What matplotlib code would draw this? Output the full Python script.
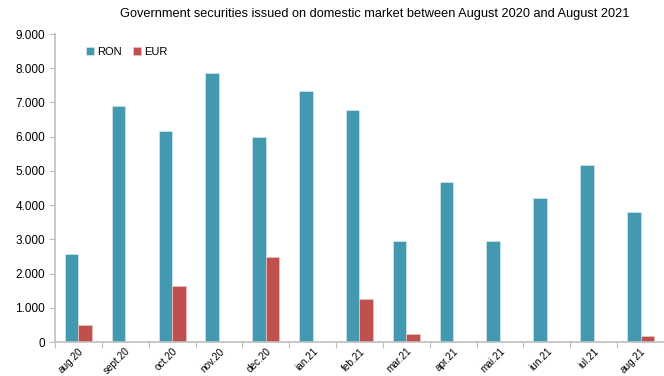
#!/usr/bin/env python3
"""Monthly government securities issued on the domestic market, RON vs EUR."""

import matplotlib

matplotlib.use("Agg")
import matplotlib.pyplot as plt
import numpy as np
from matplotlib.ticker import FuncFormatter

MONTHS = ["aug.20", "sept.20", "oct.20", "nov.20", "dec.20", "ian.21", "feb.21",
          "mar.21", "apr.21", "mai.21", "iun.21", "iul.21", "aug.21"]
RON = [2570, 6900, 6170, 7860, 6000, 7340, 6780, 2960, 4680, 2940, 4210, 5180, 3800]
EUR = [490, 0, 1640, 0, 2490, 0, 1250, 230, 0, 0, 0, 0, 170]

RON_COLOR = "#4299B0"
EUR_COLOR = "#C0504D"
AXIS_GREY = "#BFBFBF"

plt.rcParams["font.family"] = ["Liberation Sans", "DejaVu Sans"]

fig = plt.figure(figsize=(6.64, 3.76), dpi=100)
ax = fig.add_axes([0.0828, 0.0904, 0.9172, 0.819])

x = np.arange(len(MONTHS))
w = 0.29
ax.bar(x - w / 2, RON, w, color=RON_COLOR, edgecolor="#D6E8EE", linewidth=0.5, label="RON")
ax.bar(x + w / 2, EUR, w, color=EUR_COLOR, edgecolor="#EBC5C4", linewidth=0.5, label="EUR")

ax.set_xlim(-0.5, len(MONTHS) - 0.5)
ax.set_ylim(0, 9000)
ax.set_yticks(np.arange(0, 9001, 1000))
ax.yaxis.set_major_formatter(FuncFormatter(lambda v, _: f"{int(v):,}".replace(",", ".")))

# boundaries carry the tick marks, centres carry the month labels
ax.set_xticks(np.arange(-0.5, len(MONTHS), 1.0))
ax.set_xticklabels([])
ax.set_xticks(x, minor=True)
ax.set_xticklabels(MONTHS, minor=True, rotation=45, ha="right", va="top",
                   rotation_mode="anchor", fontsize=7.2)
ax.tick_params(axis="x", which="minor", length=0, pad=3)
ax.tick_params(axis="x", which="major", length=4, color=AXIS_GREY, direction="out")
ax.tick_params(axis="y", length=4, color=AXIS_GREY, labelsize=8.5, pad=3)

for side in ("top", "right"):
    ax.spines[side].set_visible(False)
for side in ("left", "bottom"):
    ax.spines[side].set_color(AXIS_GREY)
    ax.spines[side].set_linewidth(1.2)

ax.legend(loc="upper left", bbox_to_anchor=(0.035, 0.99), ncol=2, frameon=False,
          fontsize=8, handlelength=0.7, handleheight=0.7, handletextpad=0.3,
          columnspacing=1.0)

fig.text(0.565, 0.963, "Government securities issued on domestic market between August 2020 and August 2021",
         ha="center", va="center", fontsize=9.2)

fig.savefig("out.png", dpi=100)
plt.close(fig)
